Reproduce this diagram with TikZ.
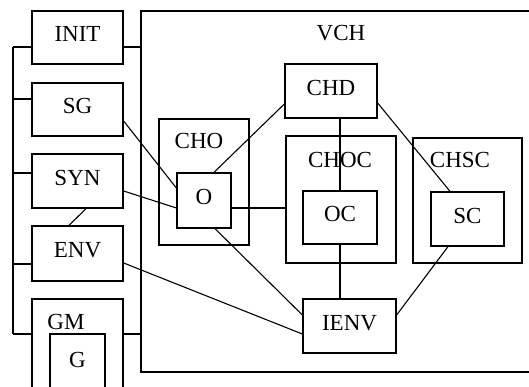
\documentclass[tikz,border=0pt]{standalone}
\usepackage{fontspec}
\setmainfont{Liberation Serif}
\usetikzlibrary{calc}
\tikzset{
  blk/.style 2 args={draw=black,line width=1.3pt,minimum width=#1,minimum height=#2,inner sep=0pt,
    font=\fontsize{23}{26}\selectfont,text depth=7pt},
  lbl/.style={font=\fontsize{23}{26}\selectfont,inner sep=0pt},
  wire/.style={draw=black,line width=1.1pt},
}

\begin{document}
\begin{tikzpicture}[x=1pt,y=-1pt]
  \useasboundingbox (0,0) rectangle (529,387);
  \clip (0,0) rectangle (529,387);
  % left column
  \node[blk={91pt}{53pt}] (init) at (77.5,37.5) {INIT};
  \node[blk={91pt}{53pt}] (sg) at (77.5,109.5) {SG};
  \node[blk={91pt}{54pt}] (syn) at (77.5,181) {SYN};
  \node[blk={91pt}{55pt}] (env) at (77.5,253.5) {ENV};
  \node[blk={91pt}{101pt}] (gm) at (77.5,349.5) {};
  \node[lbl] (gmlbl) at (66,322) {GM};
  \node[blk={55pt}{58pt}] (g) at (77.5,363) {G};
  % VCH and what sits in it
  \node[blk={399pt}{361pt}] (vch) at (340.5,191.5) {};
  \node[lbl] (vchlbl) at (341,33) {VCH};
  \node[blk={90pt}{126pt}] (cho) at (204,182) {};
  \node[lbl] (cholbl) at (199,141) {CHO};
  \node[blk={54pt}{55pt}] (o) at (204,200.5) {O};
  \node[blk={92pt}{54pt}] (chd) at (331,91) {CHD};
  \node[blk={110pt}{127pt}] (choc) at (341,199.5) {};
  \node[lbl] (choclbl) at (340,160) {CHOC};
  \node[blk={74pt}{53pt}] (oc) at (340,217.5) {OC};
  \node[blk={109pt}{125pt}] (chsc) at (467.5,200.5) {};
  \node[lbl] (chsclbl) at (460,160) {CHSC};
  \node[blk={73pt}{54pt}] (sc) at (467.5,219) {SC};
  \node[blk={93pt}{54pt}] (ienv) at (349.5,326) {IENV};
  % bus on the left
  \coordinate (bus) at (13,47);
  \foreach \n/\dy in {init/9.5,sg/-10.5,syn/-8,env/10.5}
    \draw[wire] ($(\n.west)+(0,\dy)$) coordinate (s) -- (s -| bus);
  \draw[wire] ($(gm.west)+(0,-15.5)$) coordinate (gmw) -- (gmw -| bus);
  \draw[wire] (bus) -- (gmw -| bus);
  \draw[wire] ($(init.east)+(0,9.5)$) coordinate (ie) -- (ie -| vch.west);
  \draw[wire] ($(gm.east)+(0,-15.5)$) coordinate (gme) -- (gme -| vch.west);
  % links
  \draw[wire] ($(sg.east)+(0,11.5)$) -- ($(o.west)+(0,-12.5)$);
  \draw[wire] ($(syn.east)+(0,10)$) -- ($(o.west)+(0,7.5)$);
  \draw[wire] ($(syn.south)+(8.5,0)$) -- ($(env.north)+(-8.5,0)$);
  \draw[wire] ($(env.east)+(0,9.5)$) -- ($(ienv.west)+(0,8)$);
  \draw[wire] ($(o.north)+(10,0)$) -- ($(chd.west)+(0,13)$);
  \draw[wire] ($(o.east)+(0,7.5)$) coordinate (oe) -- (oe -| choc.west);
  \draw[wire] ($(o.south)+(11,0)$) -- ($(ienv.west)+(0,-11)$);
  \draw[wire] (oc.north) -- (oc.north |- chd.south);
  \draw[wire] (oc.south) -- (oc.south |- ienv.north);
  \draw[wire] ($(chd.east)+(0,12)$) -- ($(sc.north)+(-17.5,0)$);
  \draw[wire] ($(sc.south)+(-19.5,0)$) -- ($(ienv.east)+(0,-11)$);
\end{tikzpicture}
\end{document}
